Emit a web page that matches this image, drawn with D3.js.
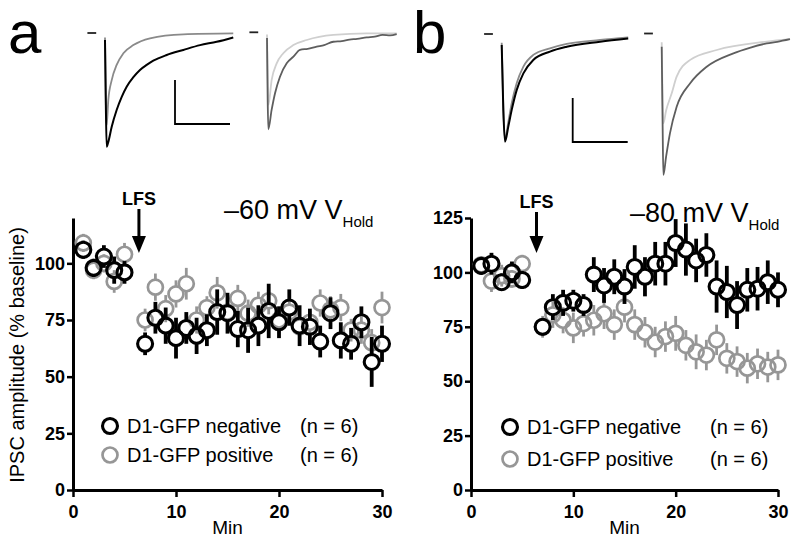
<!DOCTYPE html>
<html><head><meta charset="utf-8">
<script src="https://cdn.jsdelivr.net/npm/d3@7"></script>
<style>body{margin:0;background:#fff}</style>
</head><body>
<svg id="c" width="800" height="546" xmlns="http://www.w3.org/2000/svg"></svg>
<script>
// ---------- DATA ----------
const minutes = [1,2,3,4,5,6,7,8,9,10,11,12,13,14,15,16,17,18,19,20,21,22,23,24,25,26,27,28,29,30];
const xTicks = [0,10,20,30];
const yTicksA = [0,25,50,75,100];
const yTicksB = [0,25,50,75,100,125];
const seriesNames = ["D1-GFP negative","D1-GFP positive"];
const nLabels = ["(n = 6)","(n = 6)"];

// panel a (-60 mV)
const aNegMean = [106,98,103,97,96,null,64.5,76,72.5,67,71.5,68,70.5,78.5,78,71,70.5,72.5,79,74,80.5,72.5,72,65.5,78,66,64.5,74,56.5,64.5];
const aNegErr  = [4,4,5,6,5,null,5,7,8,9,7,8,7,10,9,8,10,9,12,7,8,9,8,7,7,8,7,7,11,8];
const aPosMean = [109,97,100,92,104,null,75,89.5,80,86.5,91,75,80.5,87,78.5,84.5,78,81.5,83.5,75,78.5,72,74,82.5,79.5,80.5,70.5,70.5,65,80.5];
const aPosErr  = [4,4,4,5,5,null,5,6,6,6,7,6,5,7,6,6,6,6,6,6,6,6,5,6,6,6,5,6,6,7];

// panel b (-80 mV)
const bNegMean = [103,104,95.5,100,96.5,null,75,84,86,87,85,99,94,98,93.5,102.5,98,104,104,113.5,110.5,105.5,108,93.5,91,85,92,92.5,95.5,92];
const bNegErr  = [4,5,4,5,4,null,4,6,6,5,5,8,8,8,8,10,9,10,10,11,12,10,10,12,12,11,10,10,10,8];
const bPosMean = [103.5,96,98.5,97,104,null,75,80.5,78,74.5,76.5,78,81,76,84,76,72.5,68,70.5,72,66.5,63.5,62,69,60.5,59,56,58,56.5,57.5];
const bPosErr  = [4,5,5,4,4,null,5,6,6,7,6,7,7,7,7,7,7,7,7,8,7,8,7,7,7,7,7,7,7,7];

// example IPSC traces: [ms, pA]
const traceA1Black = [[0,-32],[0.7,-300],[1.5,-517],[3,-495],[6.1,-426],[10.6,-350],[15.2,-290],[19.7,-244],[25.8,-201],[31.8,-168],[37.9,-145],[43.9,-126],[56.1,-100],[71.2,-77],[86.4,-55],[101.5,-40],[116.6,-20]];
const traceA1Gray  = [[0,-20],[0.8,-330],[1.5,-420],[3,-305],[6.1,-214],[10.6,-145],[16.7,-92],[25.8,-55],[40.9,-24],[71.2,-6],[116.6,-2]];
const traceA2Dark  = [[0,-26],[0.6,-300],[1.2,-441],[4.2,-353],[7.3,-277],[11.8,-202],[17.9,-141],[24,-111],[30,-80],[37,-75],[45.2,-65],[52,-58],[60.3,-43],[68,-40],[75,-33],[82,-30],[90.6,-23],[98,-20],[105,-12],[112,-14],[117.9,-8]];
const traceA2Light = [[0,-10],[0.8,-250],[1.3,-330],[4.2,-217],[8.8,-141],[14.8,-95],[24,-58],[36.1,-35],[60.3,-12],[90.6,-5],[117.9,-5]];
const traceB1Black = [[0,-50],[1.5,-350],[3,-490],[6,-421],[9.1,-345],[13.6,-255],[19.7,-179],[28.7,-118],[43.9,-80],[59.1,-58],[89.4,-35],[115,-20]];
const traceB1Gray  = [[0,-40],[1.5,-340],[3,-480],[6,-400],[9.1,-315],[13.6,-224],[19.7,-148],[28.7,-95],[43.9,-65],[59.1,-45],[89.4,-27],[115,-15]];
const traceB2Dark  = [[0,-60],[0.8,-400],[1.5,-643],[4,-560],[7.5,-454],[13.6,-333],[25.9,-226],[40.9,-151],[65.2,-90],[80,-65],[95.5,-45],[105,-38],[116.6,-26]];
const traceB2Light = [[0,-40],[0.8,-300],[1.5,-408],[4,-350],[9.1,-272],[13.6,-196],[25.9,-120],[50,-75],[95.5,-37],[116.6,-26]];
const baselineMs = [-16,-8];
const scaleBar = {ms:50, pA:200};

// ---------- DRAW ----------
const FONT = "'Liberation Sans', Arial, Helvetica, sans-serif";
const svg = d3.select("#c");
svg.append("rect").attr("width",800).attr("height",546).attr("fill","#fff");

const BLACK = "#000", GRAY = "#969696";

function drawPanel(o){
  const g = svg.append("g");
  const x = d3.scaleLinear().domain([0,30]).range([o.x0,o.x1]);
  const y = d3.scaleLinear().domain([0,o.ymax]).range([490,218]);

  // axes
  const ya = g.append("g").attr("transform",`translate(${o.x0},0)`)
    .call(d3.axisLeft(y).tickValues(o.yTicks).tickSize(6).tickSizeOuter(0).tickPadding(2));
  const xa = g.append("g").attr("transform",`translate(0,490)`)
    .call(d3.axisBottom(x).tickValues(xTicks).tickSize(7).tickSizeOuter(0).tickPadding(8));
  [ya,xa].forEach(a=>{
    a.select(".domain").attr("stroke","#000").attr("stroke-width",3);
    a.selectAll(".tick line").attr("stroke","#000").attr("stroke-width",2.5);
    a.selectAll(".tick text").attr("font-family",FONT).attr("font-weight","bold")
      .attr("font-size",18).attr("fill","#000");
  });
  g.append("text").attr("x",(o.x0+o.x1)/2).attr("y",534).attr("text-anchor","middle")
    .attr("font-family",FONT).attr("font-size",19).text("Min");

  // series
  const r = 7.5;
  function series(mean, err, color, sw, bw){
    const pts = minutes.map((m,i)=>({m, v:mean[i], e:err[i]})).filter(d=>d.v!=null);
    const sg = g.append("g");
    pts.forEach(d=>{
      const cy = y(d.v), top = y(d.v+d.e), bot = y(d.v-d.e);
      if (cy-top > r) sg.append("line").attr("x1",x(d.m)).attr("x2",x(d.m)).attr("y1",top).attr("y2",cy-r)
        .attr("stroke",color).attr("stroke-width",bw);
      if (bot-cy > r) sg.append("line").attr("x1",x(d.m)).attr("x2",x(d.m)).attr("y1",cy+r).attr("y2",bot)
        .attr("stroke",color).attr("stroke-width",bw);
    });
    sg.selectAll("circle").data(pts).join("circle")
      .attr("cx",d=>x(d.m)).attr("cy",d=>y(d.v)).attr("r",r)
      .attr("fill","none").attr("stroke",color).attr("stroke-width",sw);
  }
  series(o.pos,o.posErr,GRAY,2.7,2.8);
  series(o.neg,o.negErr,BLACK,3.1,3.8);

  // LFS arrow
  const ax = x(6.4);
  g.append("text").attr("x",ax).attr("y",o.lfsY).attr("text-anchor","middle")
    .attr("font-family",FONT).attr("font-weight","bold").attr("font-size",18).text("LFS");
  g.append("line").attr("x1",ax).attr("x2",ax).attr("y1",o.lfsY+4).attr("y2",238)
    .attr("stroke","#000").attr("stroke-width",3);
  g.append("path").attr("d",`M${ax-7},236 L${ax+7},236 L${ax},253 Z`).attr("fill","#000");

  // holding potential label
  const t = g.append("text").attr("x",o.vx).attr("y",o.vy).attr("font-family",FONT).attr("font-size",27);
  t.append("tspan").text(o.vtext + " V");
  t.append("tspan").attr("font-size",15).attr("dy",8).text("Hold");

  // legend
  const lg = [[BLACK,3.1],[GRAY,2.7]];
  lg.forEach((l,i)=>{
    const cy = o.legY[i];
    g.append("circle").attr("cx",o.legX).attr("cy",cy).attr("r",r).attr("fill","none")
      .attr("stroke",l[0]).attr("stroke-width",l[1]);
    g.append("text").attr("x",o.legX+17).attr("y",cy+7).attr("font-family",FONT).attr("font-size",20)
      .text(seriesNames[i]);
    g.append("text").attr("x",o.nX).attr("y",cy+7).attr("font-family",FONT).attr("font-size",20)
      .text(nLabels[i]);
  });
}

drawPanel({x0:73,x1:382,ymax:120,yTicks:yTicksA,neg:aNegMean,negErr:aNegErr,pos:aPosMean,posErr:aPosErr,
  lfsY:205,vx:224,vy:219,vtext:"\u201360 mV",legX:110,legY:[426,455],nX:300});
drawPanel({x0:471,x1:778,ymax:125,yTicks:yTicksB,neg:bNegMean,negErr:bNegErr,pos:bPosMean,posErr:bPosErr,
  lfsY:208,vx:630,vy:222,vtext:"\u201380 mV",legX:510,legY:[427,459],nX:710});

// y axis title
svg.append("text").attr("transform","translate(24,355) rotate(-90)").attr("text-anchor","middle")
  .attr("font-family",FONT).attr("font-size",20).text("IPSC amplitude (% baseline)");

// panel letters
svg.append("text").attr("x",8).attr("y",53).attr("font-family",FONT).attr("font-size",60).text("a");
svg.append("text").attr("x",413).attr("y",53).attr("font-family",FONT).attr("font-size",60).text("b");

// traces
function inset(ox, oy, traces){
  const tx = d3.scaleLinear().domain([0,1]).range([ox, ox+1.1]);
  const ty = d3.scaleLinear().domain([0,-1]).range([oy, oy+0.22]);
  const line = d3.line().x(d=>tx(d[0])).y(d=>ty(d[1])).curve(d3.curveMonotoneX);
  svg.append("path").attr("d",d3.line()(baselineMs.map(m=>[tx(m),ty(0)])))
    .attr("stroke","#222").attr("stroke-width",1.8).attr("fill","none");
  traces.forEach(tr=>{
    svg.append("path").attr("d",line(tr.data)).attr("fill","none")
      .attr("stroke",tr.color).attr("stroke-width",tr.w).attr("stroke-linejoin","round");
  });
}
function bar(cx, cy){
  const p = d3.path();
  p.moveTo(cx, cy - scaleBar.pA*0.22); p.lineTo(cx, cy); p.lineTo(cx + scaleBar.ms*1.1, cy);
  svg.append("path").attr("d",p.toString()).attr("fill","none").attr("stroke","#000").attr("stroke-width",1.8);
}
inset(105,33,[{data:traceA1Gray,color:"#8a8a8a",w:1.8},{data:traceA1Black,color:"#000",w:2}]);
inset(267,32.3,[{data:traceA2Light,color:"#cfcfcf",w:1.8},{data:traceA2Dark,color:"#5e5e5e",w:1.8}]);
inset(501.7,34,[{data:traceB1Gray,color:"#8a8a8a",w:1.8},{data:traceB1Black,color:"#000",w:2}]);
inset(661.7,33.5,[{data:traceB2Light,color:"#cfcfcf",w:1.8},{data:traceB2Dark,color:"#5e5e5e",w:1.8}]);
bar(175,124);
bar(572.7,142);
</script>
</body></html>
